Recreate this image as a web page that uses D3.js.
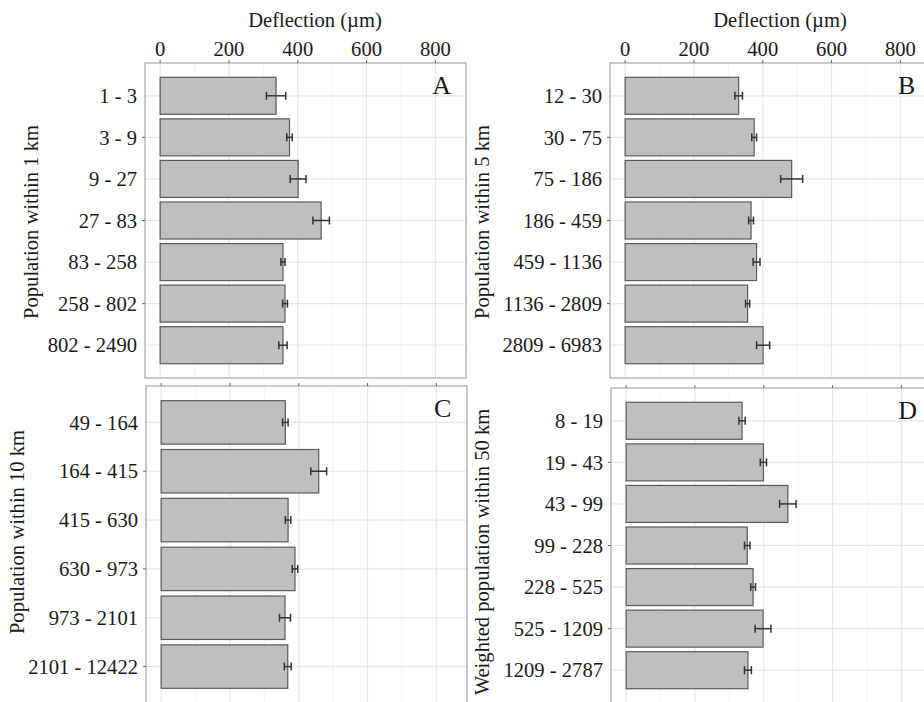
<!DOCTYPE html>
<html>
<head>
<meta charset="utf-8">
<script src="https://cdn.jsdelivr.net/npm/d3@7"></script>
<style>
body { margin: 0; background: #fff; }
text { font-family: "Liberation Serif", "Times New Roman", serif; fill: #1a1a1a; }
</style>
</head>
<body>
<svg id="chart" width="924" height="702"></svg>
<script>
// population classes and mean deflection (+/- error) per panel
var catsA = ["1 - 3", "3 - 9", "9 - 27", "27 - 83", "83 - 258", "258 - 802", "802 - 2490"]
var meanA = [337, 376, 401, 468, 357, 363, 357]
var errA = [28, 8, 23, 24, 6, 7, 12]

var catsB = ["12 - 30", "30 - 75", "75 - 186", "186 - 459", "459 - 1136", "1136 - 2809", "2809 - 6983"]
var meanB = [330, 375, 484, 366, 382, 356, 401]
var errB = [11, 7, 32, 7, 10, 6, 19]

var catsC = ["49 - 164", "164 - 415", "415 - 630", "630 - 973", "973 - 2101", "2101 - 12422"]
var meanC = [361, 458, 369, 389, 360, 368]
var errC = [8, 23, 8, 8, 16, 10]

var catsD = ["8 - 19", "19 - 43", "43 - 99", "99 - 228", "228 - 525", "525 - 1209", "1209 - 2787"]
var meanD = [337, 399, 470, 352, 369, 398, 354]
var errD = [9, 9, 24, 8, 7, 23, 10]

var xTicks = [0, 200, 400, 600, 800]
var xMinor = [100, 300, 500, 700]
var xTitle = "Deflection (\u00b5m)"

var panels = [
    {letter: "A", title: "Population within 1 km", cats: catsA, mean: meanA, err: errA,
        left: 145, top: 63, bottom: 378, topAxis: true, titleX: 38, titleY: 222},
    {letter: "B", title: "Population within 5 km", cats: catsB, mean: meanB, err: errB,
        left: 610, top: 63, bottom: 378, topAxis: true, titleX: 489, titleY: 222},
    {letter: "C", title: "Population within 10 km", cats: catsC, mean: meanC, err: errC,
        left: 146, top: 386, bottom: 703, topAxis: false, titleX: 24, titleY: 532},
    {letter: "D", title: "Weighted population within 50 km", cats: catsD, mean: meanD, err: errD,
        left: 611, top: 388, bottom: 703, topAxis: false, titleX: 489, titleY: 552}
]

var panelW = 321
var fs = "20.6px"
var svg = d3.select("#chart")

var drawPanel = function(p) {
    var x = d3.scaleLinear().domain([-44, 889]).range([p.left, p.left + panelW])
    var y = d3.scaleBand().domain(p.cats)
        .range([p.top + 12, p.bottom - 12])
        .paddingInner(0.11).paddingOuter(0.055)
    var g = svg.append("g")
    var rows = p.cats.map(function(c, i) {
        return {cat: c, mean: p.mean[i], err: p.err[i], i: i}
    })

    // grid
    g.selectAll(".minor").data(xMinor).enter().append("line")
        .attr("x1", function(d) { return x(d) }).attr("x2", function(d) { return x(d) })
        .attr("y1", p.top).attr("y2", p.bottom)
        .attr("stroke", "#f2f2f2").attr("stroke-width", 0.8)
    g.selectAll(".major").data(xTicks).enter().append("line")
        .attr("x1", function(d) { return x(d) }).attr("x2", function(d) { return x(d) })
        .attr("y1", p.top).attr("y2", p.bottom)
        .attr("stroke", "#e8e8e8").attr("stroke-width", 1.2)
    g.selectAll(".hgrid").data(p.cats).enter().append("line")
        .attr("x1", p.left).attr("x2", p.left + panelW)
        .attr("y1", function(d) { return y(d) + y.bandwidth() / 2 })
        .attr("y2", function(d) { return y(d) + y.bandwidth() / 2 })
        .attr("stroke", "#e8e8e8").attr("stroke-width", 1.2)

    // bars
    g.selectAll(".bar").data(rows).enter().append("rect")
        .attr("x", x(0))
        .attr("y", function(d) { return y(d.cat) })
        .attr("width", function(d) { return x(d.mean) - x(0) })
        .attr("height", y.bandwidth())
        .attr("fill", "#bfbfbf")
        .attr("stroke", "#5a5a5a")
        .attr("stroke-width", 1.2)

    // error bars
    var eb = g.selectAll(".err").data(rows).enter().append("g")
        .attr("stroke", "#333").attr("stroke-width", 1.5)
    eb.append("line")
        .attr("x1", function(d) { return x(d.mean - d.err) })
        .attr("x2", function(d) { return x(d.mean + d.err) })
        .attr("y1", function(d) { return y(d.cat) + y.bandwidth() / 2 })
        .attr("y2", function(d) { return y(d.cat) + y.bandwidth() / 2 })
    ;[-1, 1].forEach(function(s) {
        eb.append("line")
            .attr("x1", function(d) { return x(d.mean + s * d.err) })
            .attr("x2", function(d) { return x(d.mean + s * d.err) })
            .attr("y1", function(d) { return y(d.cat) + y.bandwidth() / 2 - 4 })
            .attr("y2", function(d) { return y(d.cat) + y.bandwidth() / 2 + 4 })
    })

    // frame
    g.append("rect")
        .attr("x", p.left).attr("y", p.top)
        .attr("width", panelW).attr("height", p.bottom - p.top)
        .attr("fill", "none").attr("stroke", "#a6a6a6").attr("stroke-width", 1.2)

    // top ticks
    g.selectAll(".xt").data(xTicks).enter().append("line")
        .attr("x1", function(d) { return x(d) }).attr("x2", function(d) { return x(d) })
        .attr("y1", p.top - 3).attr("y2", p.top)
        .attr("stroke", "#666")

    // y ticks and labels
    g.selectAll(".yt").data(rows.filter(function(d) { return d.i % 2 == 1 })).enter().append("line")
        .attr("x1", p.left - 3).attr("x2", p.left)
        .attr("y1", function(d) { return y(d.cat) + y.bandwidth() / 2 })
        .attr("y2", function(d) { return y(d.cat) + y.bandwidth() / 2 })
        .attr("stroke", "#666")
    g.selectAll(".yl").data(p.cats).enter().append("text")
        .attr("x", p.left - 8)
        .attr("y", function(d) { return y(d) + y.bandwidth() / 2 })
        .attr("dy", "0.35em")
        .attr("text-anchor", "end")
        .style("font-size", fs)
        .text(function(d) { return d })

    g.append("text")
        .attr("transform", "translate(" + p.titleX + "," + p.titleY + ") rotate(-90)")
        .attr("text-anchor", "middle")
        .style("font-size", fs)
        .text(p.title)

    g.append("text")
        .attr("x", x(818)).attr("y", p.top + 31)
        .attr("text-anchor", "middle")
        .style("font-size", "26px")
        .text(p.letter)

    if (p.topAxis) {
        g.selectAll(".xl").data(xTicks).enter().append("text")
            .attr("x", function(d) { return x(d) })
            .attr("y", 56)
            .attr("text-anchor", "middle")
            .style("font-size", fs)
            .text(function(d) { return d })
        g.append("text")
            .attr("x", x(450)).attr("y", 27)
            .attr("text-anchor", "middle")
            .style("font-size", fs)
            .text(xTitle)
    }
}

panels.forEach(drawPanel)
</script>
</body>
</html>
